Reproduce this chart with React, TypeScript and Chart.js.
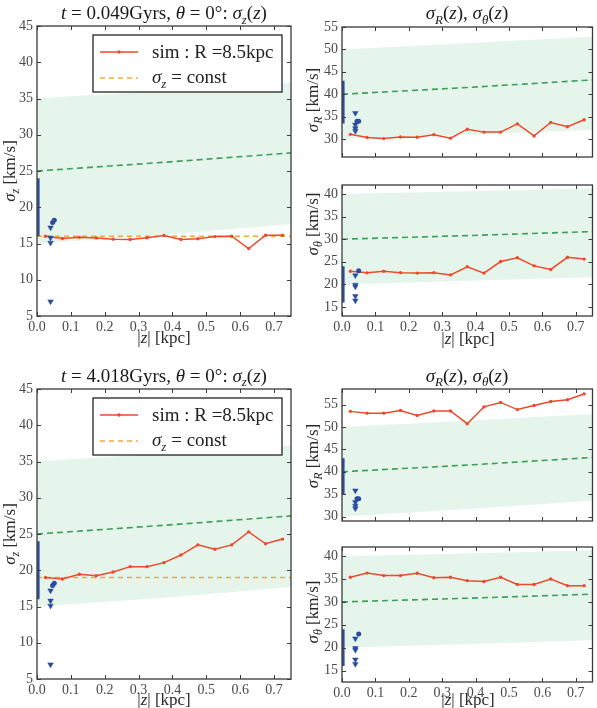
import React, { useEffect, useRef } from 'react';
import { Chart, registerables } from 'chart.js';

Chart.register(...registerables);
Chart.defaults.font.family = '"Liberation Serif", "DejaVu Serif", serif';

// ---- shared axes -------------------------------------------------------
const zBins = [0.025, 0.075, 0.125, 0.175, 0.225, 0.275, 0.325, 0.375, 0.425, 0.475, 0.525, 0.575, 0.625, 0.675, 0.725];
const xTicks = [0, 0.1, 0.2, 0.3, 0.4, 0.5, 0.6, 0.7];
const sigZTicks = [5, 10, 15, 20, 25, 30, 35, 40, 45];
const sigRTicks = [30, 35, 40, 45, 50, 55];
const sigThTicks = [15, 20, 25, 30, 35, 40];

// ---- simulation profiles at R = 8.5 kpc ---------------------------------
const simSigZEarly = [16.0, 15.7, 15.85, 15.75, 15.6, 15.55, 15.8, 16.1, 15.55, 15.65, 15.95, 16.0, 14.3, 16.15, 16.15];
const simSigREarly = [31.05, 30.35, 30.1, 30.45, 30.4, 30.95, 30.2, 32.2, 31.55, 31.55, 33.4, 30.7, 33.7, 32.75, 34.3];
const simSigThEarly = [22.9, 22.55, 22.9, 22.6, 22.5, 22.6, 22.1, 23.9, 22.5, 25.05, 25.9, 24.1, 23.3, 26.0, 25.6];

const simSigZLate = [19.0, 18.8, 19.45, 19.25, 19.75, 20.5, 20.5, 21.05, 22.1, 23.5, 22.9, 23.5, 25.3, 23.65, 24.3];
const simSigRLate = [53.5, 53.1, 53.1, 53.7, 52.6, 53.6, 53.6, 50.75, 54.5, 55.5, 53.9, 54.8, 55.7, 56.1, 57.4];
const simSigThLate = [35.4, 36.3, 35.75, 35.75, 36.25, 35.3, 35.4, 34.65, 34.45, 35.4, 33.8, 33.8, 35.0, 33.55, 33.55];

const constSigZEarly = 16.0;
const constSigZLate = 19.0;
const constZRange = [0, 0.75];

// ---- model curves and their spread ---------------------------------------
const modelZ = [0, 0.375, 0.75];
const modelSigZ = [25, 26.2, 27.5];
const modelSigZLow = [15, 16.2, 17.7];
const modelSigZHigh = [35, 36.1, 37.2];
const modelSigR = [40, 41.5, 43.2];
const modelSigRLowEarly = [30, 31, 32];
const modelSigRLowLate = [30, 31.7, 33.5];
const modelSigRHigh = [50, 51.4, 52.9];
const modelSigTh = [30, 30.8, 31.7];
const modelSigThLow = [20, 20.8, 21.6];
const modelSigThHigh = [40, 40.6, 41.3];

// ---- solar-neighbourhood measurements ------------------------------------
const obsBarZ = 0.004;
const obsTriZ = 0.04;
const obsSigZBar = [16, 24];
const obsSigZTri = [17.2, 15.8, 15.1, 7.0];
const obsSigZDotZ = [0.046, 0.051];
const obsSigZDot = [17.9, 18.2];
const obsSigRBarEarly = [33.5, 43];
const obsSigRBarLate = [35, 43];
const obsSigRTri = [35.8, 33.2, 32.4, 31.8];
const obsSigRDotZ = [0.045, 0.05];
const obsSigRDot = [34.0, 34.0];
const obsSigThBar = [16, 24];
const obsSigThTri = [22.0, 19.9, 19.5, 17.4, 16.4];
const obsSigThDotZ = [0.05];
const obsSigThDot = [23.0];

// ---- text ----------------------------------------------------------------
type Seg = { t: string; it?: boolean; sub?: boolean };
const titleEarly: Seg[] = [
  { t: 't', it: true }, { t: ' = 0.049Gyrs, ' }, { t: 'θ', it: true }, { t: ' = 0°: ' },
  { t: 'σ', it: true }, { t: 'z', it: true, sub: true }, { t: '(' }, { t: 'z', it: true }, { t: ')' },
];
const titleLate: Seg[] = [
  { t: 't', it: true }, { t: ' = 4.018Gyrs, ' }, { t: 'θ', it: true }, { t: ' = 0°: ' },
  { t: 'σ', it: true }, { t: 'z', it: true, sub: true }, { t: '(' }, { t: 'z', it: true }, { t: ')' },
];
const titleRight: Seg[] = [
  { t: 'σ', it: true }, { t: 'R', it: true, sub: true }, { t: '(' }, { t: 'z', it: true }, { t: '), ' },
  { t: 'σ', it: true }, { t: 'θ', it: true, sub: true }, { t: '(' }, { t: 'z', it: true }, { t: ')' },
];
const yLabelZ: Seg[] = [{ t: 'σ', it: true }, { t: 'z', it: true, sub: true }, { t: ' [km/s]' }];
const yLabelR: Seg[] = [{ t: 'σ', it: true }, { t: 'R', it: true, sub: true }, { t: ' [km/s]' }];
const yLabelTh: Seg[] = [{ t: 'σ', it: true }, { t: 'θ', it: true, sub: true }, { t: ' [km/s]' }];
const xLabel: Seg[] = [{ t: '|' }, { t: 'z', it: true }, { t: '| [kpc]' }];
const legendSim: Seg[] = [{ t: 'sim : R =8.5kpc' }];
const legendConst: Seg[] = [{ t: 'σ', it: true }, { t: 'z', it: true, sub: true }, { t: ' = const' }];

// ---- styling -------------------------------------------------------------
const W = 597;
const H = 708;
const Y_AXIS_W = 30;
const X_AXIS_H = 22;
const RED = '#ec4a2c';
const ORANGE = '#f5a83a';
const GREEN = '#3f9d5e';
const BAND = '#e5f5eb';
const BLUE = '#2b4c9c';
const FRAME = '#3a3a3a';
const FONT = '"Liberation Serif", "DejaVu Serif", serif';

function drawRich(
  ctx: CanvasRenderingContext2D, segs: Seg[], x: number, y: number, size: number,
  align: 'center' | 'left', color: string, rot = 0,
) {
  const fontFor = (s: Seg) => `${s.it ? 'italic ' : ''}${s.sub ? Math.round(size * 0.7) : size}px ${FONT}`;
  let total = 0;
  for (const s of segs) {
    ctx.font = fontFor(s);
    total += ctx.measureText(s.t).width;
  }
  ctx.save();
  ctx.translate(x, y);
  ctx.rotate(rot);
  ctx.fillStyle = color;
  ctx.textAlign = 'left';
  ctx.textBaseline = 'alphabetic';
  let cx = align === 'center' ? -total / 2 : 0;
  for (const s of segs) {
    ctx.font = fontFor(s);
    ctx.fillText(s.t, cx, s.sub ? size * 0.24 : 0);
    cx += ctx.measureText(s.t).width;
  }
  ctx.restore();
}

type Area = { l: number; t: number; r: number; b: number };
type PanelCfg = {
  area: Area;
  yMin: number;
  yMax: number;
  yTicks: number[];
  xTickLabels: boolean;
  datasets: any[];
  title?: { segs: Seg[]; x: number; y: number };
  yLabel: { segs: Seg[]; x: number; y: number };
  xLabel?: { x: number; y: number };
  legend?: boolean;
};

const pts = (xs: number[], ys: number[]) => ys.map((y, i) => ({ x: xs[i], y }));
const same = (x: number, ys: number[]) => ys.map((y) => ({ x, y }));

function buildDatasets(o: {
  sim: number[]; model: number[]; low: number[]; high: number[]; constVal?: number;
  bar: number[]; tri: number[]; dotZ: number[]; dot: number[];
}) {
  const ds: any[] = [
    { data: pts(modelZ, o.low), borderWidth: 0, pointRadius: 0, fill: false, order: 9 },
    { data: pts(modelZ, o.high), borderWidth: 0, pointRadius: 0, fill: '-1', backgroundColor: BAND, order: 8 },
    { data: pts(modelZ, o.model), borderColor: GREEN, borderWidth: 1.6, borderDash: [6, 4], pointRadius: 0, fill: false, order: 6 },
    {
      data: pts(zBins, o.sim), borderColor: RED, borderWidth: 1.5, pointRadius: 1.7,
      pointBackgroundColor: RED, pointBorderWidth: 0, fill: false, order: 3,
    },
    { data: same(obsBarZ, o.bar), borderColor: BLUE, borderWidth: 2.5, pointRadius: 0, fill: false, order: 2 },
    {
      data: same(obsTriZ, o.tri), showLine: false, pointStyle: 'triangle', rotation: 180, pointRadius: 3.2,
      pointBackgroundColor: BLUE, pointBorderColor: BLUE, pointBorderWidth: 0.5, order: 1,
    },
    {
      data: pts(o.dotZ, o.dot), showLine: false, pointStyle: 'circle', pointRadius: 2.5,
      pointBackgroundColor: BLUE, pointBorderColor: BLUE, pointBorderWidth: 0, order: 0,
    },
  ];
  if (o.constVal !== undefined) {
    ds.push({
      data: constZRange.map((x) => ({ x, y: o.constVal })),
      borderColor: ORANGE, borderWidth: 1.5, borderDash: [5, 4], pointRadius: 0, fill: false, order: 4,
    });
  }
  return ds;
}

function decorPlugin(cfg: PanelCfg) {
  return {
    id: 'panelDecor',
    afterDraw(chart: any) {
      const ctx: CanvasRenderingContext2D = chart.ctx;
      const { left, right, top, bottom } = chart.chartArea;
      const xs = chart.scales.x;
      const ys = chart.scales.y;
      ctx.save();
      // inward ticks on all four sides
      ctx.strokeStyle = FRAME;
      ctx.lineWidth = 1;
      ctx.beginPath();
      for (const v of xTicks) {
        const px = Math.round(xs.getPixelForValue(v)) + 0.5;
        ctx.moveTo(px, bottom); ctx.lineTo(px, bottom - 4);
        ctx.moveTo(px, top); ctx.lineTo(px, top + 4);
      }
      for (const v of cfg.yTicks) {
        const py = Math.round(ys.getPixelForValue(v)) + 0.5;
        ctx.moveTo(left, py); ctx.lineTo(left + 4, py);
        ctx.moveTo(right, py); ctx.lineTo(right - 4, py);
      }
      ctx.stroke();
      // frame
      ctx.lineWidth = 1.3;
      ctx.strokeRect(left, top, right - left, bottom - top);

      if (cfg.legend) {
        const bx = left + 56;
        const by = top + 9;
        const bw = right - 9 - bx;
        const bh = 57;
        ctx.fillStyle = '#fff';
        ctx.fillRect(bx, by, bw, bh);
        ctx.strokeStyle = '#111';
        ctx.lineWidth = 1.2;
        ctx.strokeRect(bx, by, bw, bh);
        // sim sample
        ctx.strokeStyle = RED;
        ctx.lineWidth = 1.5;
        ctx.beginPath();
        ctx.moveTo(left + 63, top + 26); ctx.lineTo(left + 101, top + 26);
        ctx.stroke();
        ctx.fillStyle = RED;
        ctx.beginPath();
        ctx.arc(left + 82, top + 26, 1.7, 0, Math.PI * 2);
        ctx.fill();
        // constant sample
        ctx.strokeStyle = ORANGE;
        ctx.setLineDash([5, 4]);
        ctx.beginPath();
        ctx.moveTo(left + 63, top + 52); ctx.lineTo(left + 101, top + 52);
        ctx.stroke();
        ctx.setLineDash([]);
        drawRich(ctx, legendSim, left + 115, top + 32, 19, 'left', '#222');
        drawRich(ctx, legendConst, left + 115, top + 57, 19, 'left', '#222');
      }
      if (cfg.title) drawRich(ctx, cfg.title.segs, cfg.title.x, cfg.title.y, 19, 'center', '#1a1a1a');
      drawRich(ctx, cfg.yLabel.segs, cfg.yLabel.x, cfg.yLabel.y, 17, 'center', '#2a2a2a', -Math.PI / 2);
      if (cfg.xLabel) drawRich(ctx, xLabel, cfg.xLabel.x, cfg.xLabel.y, 17, 'center', '#2a2a2a');
      ctx.restore();
    },
  };
}

function Panel({ cfg }: { cfg: PanelCfg }) {
  const ref = useRef<HTMLCanvasElement>(null);
  useEffect(() => {
    const a = cfg.area;
    const chart = new Chart(ref.current as HTMLCanvasElement, {
      type: 'line',
      data: { datasets: cfg.datasets },
      options: {
        animation: false,
        responsive: false,
        devicePixelRatio: 1,
        events: [],
        layout: {
          padding: { left: a.l - Y_AXIS_W, top: a.t, right: W - a.r, bottom: H - a.b - X_AXIS_H },
        },
        plugins: { legend: { display: false }, tooltip: { enabled: false }, title: { display: false } },
        scales: {
          x: {
            type: 'linear',
            min: 0,
            max: 0.75,
            afterBuildTicks: (s: any) => { s.ticks = xTicks.map((value) => ({ value })); },
            afterFit: (s: any) => { s.height = X_AXIS_H; },
            grid: { display: false, drawTicks: false },
            border: { display: false },
            ticks: {
              display: cfg.xTickLabels,
              autoSkip: false,
              maxRotation: 0,
              padding: 3,
              color: '#4a4a4a',
              font: { size: 14, family: FONT },
              callback: (v: any) => Number(v).toFixed(1),
            },
          },
          y: {
            type: 'linear',
            min: cfg.yMin,
            max: cfg.yMax,
            afterBuildTicks: (s: any) => { s.ticks = cfg.yTicks.map((value) => ({ value })); },
            afterFit: (s: any) => { s.width = Y_AXIS_W; },
            grid: { display: false, drawTicks: false },
            border: { display: false },
            ticks: {
              autoSkip: false,
              padding: 4,
              color: '#4a4a4a',
              font: { size: 14, family: FONT },
              callback: (v: any) => String(v),
            },
          },
        },
      },
      plugins: [decorPlugin(cfg)],
    } as any);
    return () => chart.destroy();
  }, [cfg]);
  return <canvas ref={ref} width={W} height={H} style={{ position: 'absolute', left: 0, top: 0 }} />;
}

const panels: PanelCfg[] = [
  {
    area: { l: 37, t: 26, r: 291, b: 316 }, yMin: 5, yMax: 45, yTicks: sigZTicks, xTickLabels: true,
    datasets: buildDatasets({
      sim: simSigZEarly, model: modelSigZ, low: modelSigZLow, high: modelSigZHigh, constVal: constSigZEarly,
      bar: obsSigZBar, tri: obsSigZTri, dotZ: obsSigZDotZ, dot: obsSigZDot,
    }),
    title: { segs: titleEarly, x: 164, y: 19 },
    yLabel: { segs: yLabelZ, x: 15, y: 171 },
    xLabel: { x: 164, y: 343 },
    legend: true,
  },
  {
    area: { l: 342, t: 27, r: 595, b: 157 }, yMin: 26, yMax: 55, yTicks: sigRTicks, xTickLabels: false,
    datasets: buildDatasets({
      sim: simSigREarly, model: modelSigR, low: modelSigRLowEarly, high: modelSigRHigh,
      bar: obsSigRBarEarly, tri: obsSigRTri, dotZ: obsSigRDotZ, dot: obsSigRDot,
    }),
    title: { segs: titleRight, x: 467, y: 19 },
    yLabel: { segs: yLabelR, x: 318, y: 100 },
  },
  {
    area: { l: 342, t: 185, r: 595, b: 316 }, yMin: 13, yMax: 42, yTicks: sigThTicks, xTickLabels: true,
    datasets: buildDatasets({
      sim: simSigThEarly, model: modelSigTh, low: modelSigThLow, high: modelSigThHigh,
      bar: obsSigThBar, tri: obsSigThTri, dotZ: obsSigThDotZ, dot: obsSigThDot,
    }),
    yLabel: { segs: yLabelTh, x: 318, y: 224 },
    xLabel: { x: 468, y: 344 },
  },
  {
    area: { l: 37, t: 389, r: 291, b: 679 }, yMin: 5, yMax: 45, yTicks: sigZTicks, xTickLabels: true,
    datasets: buildDatasets({
      sim: simSigZLate, model: modelSigZ, low: modelSigZLow, high: modelSigZHigh, constVal: constSigZLate,
      bar: obsSigZBar, tri: obsSigZTri, dotZ: obsSigZDotZ, dot: obsSigZDot,
    }),
    title: { segs: titleLate, x: 164, y: 381.5 },
    yLabel: { segs: yLabelZ, x: 15, y: 534 },
    xLabel: { x: 164, y: 705 },
    legend: true,
  },
  {
    area: { l: 342, t: 389, r: 595, b: 521 }, yMin: 29, yMax: 58.5, yTicks: sigRTicks, xTickLabels: false,
    datasets: buildDatasets({
      sim: simSigRLate, model: modelSigR, low: modelSigRLowLate, high: modelSigRHigh,
      bar: obsSigRBarLate, tri: obsSigRTri, dotZ: obsSigRDotZ, dot: obsSigRDot,
    }),
    title: { segs: titleRight, x: 467, y: 381.5 },
    yLabel: { segs: yLabelR, x: 318, y: 456 },
  },
  {
    area: { l: 342, t: 547, r: 595, b: 682 }, yMin: 12.5, yMax: 42, yTicks: sigThTicks, xTickLabels: true,
    datasets: buildDatasets({
      sim: simSigThLate, model: modelSigTh, low: modelSigThLow, high: modelSigThHigh,
      bar: obsSigThBar, tri: obsSigThTri, dotZ: obsSigThDotZ, dot: obsSigThDot,
    }),
    yLabel: { segs: yLabelTh, x: 318, y: 612 },
    xLabel: { x: 468, y: 705 },
  },
];

export default function App() {
  return (
    <div style={{ position: 'absolute', left: 0, top: 0, width: W, height: H, background: '#fff', overflow: 'hidden' }}>
      {panels.map((p, i) => (
        <Panel key={i} cfg={p} />
      ))}
    </div>
  );
}
